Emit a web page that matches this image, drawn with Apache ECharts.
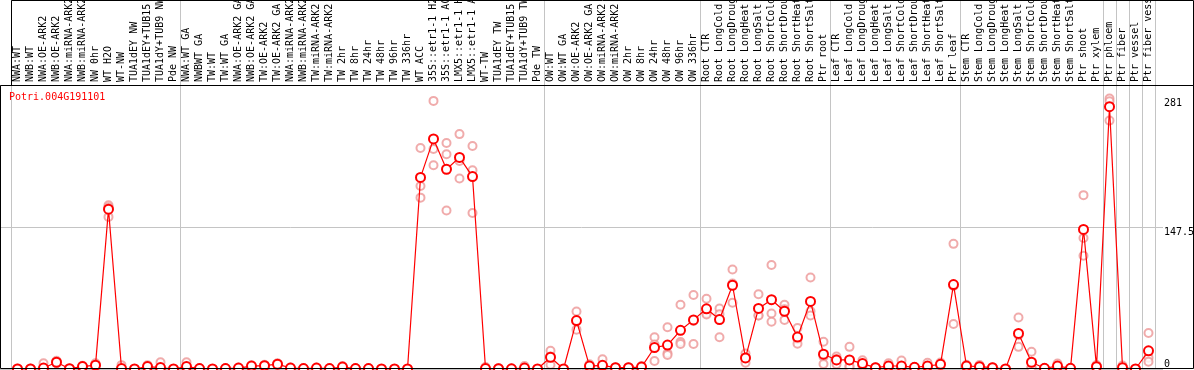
<!DOCTYPE html>
<html><head><meta charset="utf-8">
<script src="https://cdn.jsdelivr.net/npm/echarts@6/dist/echarts.min.js"></script>
<style>html,body{margin:0;padding:0;background:#fff}#c{width:1194px;height:370px}</style>
</head><body><div id="c"></div>
<script>
const titleText = 'Potri.004G191101';
const categories = [
  'NWA:WT','NWB:WT','NWA:OE-ARK2','NWB:OE-ARK2','NWA:miRNA-ARK2','NWB:miRNA-ARK2','NW 0hr','WT H2O','WT-NW',
  'TUA1dEY NW','TUA1dEY+TUB15 NW','TUA1dY+TUB9 NW','Pde NW',
  'NWA:WT GA','NWBWT GA','TW:WT','TW:WT GA','NWA:OE-ARK2 GA','NWB:OE-ARK2 GA','TW:OE-ARK2','TW:OE-ARK2 GA',
  'NWA:miRNA-ARK2','NWB:miRNA-ARK2','TW:miRNA-ARK2','TW:miRNA-ARK2','TW 2hr','TW 8hr','TW 24hr','TW 48hr','TW 96hr','TW 336hr',
  'WT ACC','35S::etr1-1 H2O','35S::etr1-1 ACC','LMX5::etr1-1 H2O','LMX5::etr1-1 ACC','WT-TW','TUA1dEY TW','TUA1dEY+TUB15 TW','TUA1dY+TUB9 TW','Pde TW',
  'OW:WT','OW:WT GA','OW:OE-ARK2','OW:OE-ARK2 GA','OW:miRNA-ARK2','OW:miRNA-ARK2','OW 2hr','OW 8hr','OW 24hr','OW 48hr','OW 96hr','OW 336hr',
  'Root CTR','Root LongCold','Root LongDrought','Root LongHeat','Root LongSalt','Root ShortCold','Root ShortDrought','Root ShortHeat','Root ShortSalt','Ptr root',
  'Leaf CTR','Leaf LongCold','Leaf LongDrought','Leaf LongHeat','Leaf LongSalt','Leaf ShortCold','Leaf ShortDrought','Leaf ShortHeat','Leaf ShortSalt','Ptr leaf',
  'Stem CTR','Stem LongCold','Stem LongDrought','Stem LongHeat','Stem LongSalt','Stem ShortCold','Stem ShortDrought','Stem ShortHeat','Stem ShortSalt','Ptr shoot',
  'Ptr xylem','Ptr phloem','Ptr fiber','Ptr vessel','Ptr fiber vessel'
];
const meanValues = [
  0,0,1,7,0.3,2.5,4,166,0.5,0,2.5,1.5,0,
  2.5,0.5,0,0.5,1,3,3.5,5,1,0.5,1,0.5,2,0.5,0.5,0,0,0,
  199,239,207.5,219.8,199.9,0.5,0.3,0.2,1,0,
  12.2,0,50.3,3,3.8,1.4,1.4,2,22.3,24.8,40.2,51,
  62.5,51.4,87,11.5,62.9,72,60,33.2,70.2,15.4,
  9.4,9.4,5.6,1.4,3.1,3.1,1.7,3.1,4.9,87.7,
  3.1,2.4,1.4,0,37,7,0.7,3.1,0.7,145,
  2.4,272.5,1.4,0,18.9
];
const rep1 = [
  0,0,0.5,6,0,1.5,2,170,0,0,1.5,0,0,
  0,0,0,0,0.5,2,2.5,4,0.5,0,0.5,0,1,0,0,0,0,0,
  190,278.5,234.8,244,231.6,0,0,0,0,0,
  18.9,0,59.7,1,0.5,1,1,1,33,43.3,66.7,76.9,
  73,62.9,103.4,16,77.6,108,66.7,42.6,95,28.3,
  12.9,23,9,1,6,8.7,1,6.5,3,130,
  2,1,1,0,53.5,18,0.5,5.6,0.5,180.6,
  1,281,0,0,37.4
];
const rep2 = [
  0,0,1,7,0.3,2.5,4,168,0.5,0,2,0,0,
  1,0.5,0,0.5,1,3,3.5,5,1,0.5,1,0.5,2,0.5,0.5,0,0,0,
  178,228.5,223,216,206.5,0,0.5,0.2,0.5,0,
  13,0,50,3,1,1.4,1.4,2,25.5,16.4,28,50,
  58,57,88.7,12,55.6,57.6,62,31,60,12.7,
  10.4,3,5,1.5,2,0.5,2,2,5,86.3,
  3,2,1.4,0,35,2,0.7,2,0.7,136,
  2,278,0.5,0,11.8
];
const rep3 = [
  0.5,0.5,6,8.5,0.5,3.5,6,158,4,0,4,7,0,
  7,1,0,1,1.5,4,4.5,6,1.5,1,1.5,1,3,1,1,0,0,0,
  229.6,211.7,164.6,197.8,162,2,1,0.4,3,0,
  4.5,0,40.9,5,10,1.7,1.7,3,8.4,14.5,26,25.9,
  56.6,33,68.9,6.6,55.5,49,51,26.2,55.5,5.2,
  4.9,2.2,2.8,1.7,1.3,0.1,2,0.8,6.7,46.8,
  4.3,4.2,1.7,0,23,1,0.9,1.7,0.9,117.7,
  4.2,258,3.7,0,7.5
];
const yTickLabels = [0, 147.5, 281];
const yMax = 295;
const groupBoundaries = [0, 13, 41, 53, 63, 73, 84, 85, 86, 87];

const mono = 'DejaVu Sans Mono';
const gridGray = '#c4c4c4';
const chart = echarts.init(document.getElementById('c'), null, {renderer: 'canvas'});
const sepLine = {show: true, interval: (i) => groupBoundaries.includes(i), lineStyle: {color: gridGray, width: 1}};
const repStyle = {color: 'rgb(236,150,150)', borderColor: 'rgb(236,150,150)', borderWidth: 1.2};
function repSeries(arr) {
  return {type: 'scatter', xAxisIndex: 0, yAxisIndex: 0, data: arr, symbol: 'emptyCircle', symbolSize: 8,
    itemStyle: repStyle, z: 2, silent: true};
}
function labelAxis(value, vAlign, withSplit) {
  return {type: 'value', gridIndex: 2, min: 0, max: yMax, interval: value === 0 ? yTickLabels[1] : value,
    position: 'right', axisLine: {show: false}, axisTick: {show: false},
    splitLine: withSplit ? {show: true, lineStyle: {color: gridGray, width: 1}} : {show: false},
    axisLabel: {show: true, margin: 1, align: 'left', verticalAlign: vAlign, fontFamily: mono, fontSize: 10, color: '#000',
      formatter: (v) => (Math.abs(v - value) < 1e-6 ? String(value) : '')}};
}
const gridBase = {containLabel: false, outerBoundsMode: 'none'};
chart.setOption({
  animation: false,
  backgroundColor: '#fff',
  title: {text: titleText, left: 9, top: 92, padding: 0,
    textStyle: {color: '#ff0000', fontFamily: mono, fontSize: 10, fontWeight: 'normal'}},
  grid: [
    Object.assign({left: 11, right: 39, top: 85, bottom: 1}, gridBase),
    Object.assign({left: 11, right: 39, top: 0, height: 85}, gridBase),
    Object.assign({left: 0, right: 31, top: 85, bottom: 1}, gridBase)
  ],
  xAxis: [
    {type: 'category', gridIndex: 0, data: categories, position: 'top', boundaryGap: true,
      axisLine: {show: false, onZero: false}, axisTick: {show: false},
      axisLabel: {interval: 0, rotate: -90, align: 'left', verticalAlign: 'middle', margin: 3,
        fontFamily: mono, fontSize: 10, color: '#000', hideOverlap: false},
      splitLine: sepLine},
    {type: 'category', gridIndex: 1, data: categories, boundaryGap: true,
      axisLine: {show: false}, axisTick: {show: false}, axisLabel: {show: false}, splitLine: sepLine},
    {type: 'value', gridIndex: 2, show: false}
  ],
  yAxis: [
    {type: 'value', gridIndex: 0, min: 0, max: yMax, show: false},
    {type: 'value', gridIndex: 1, show: false},
    labelAxis(yTickLabels[1], 'top', true),
    labelAxis(yTickLabels[2], 'top', false),
    labelAxis(yTickLabels[0], 'bottom', false)
  ],
  series: [
    repSeries(rep1), repSeries(rep2), repSeries(rep3),
    {type: 'line', xAxisIndex: 0, yAxisIndex: 0, data: meanValues, symbol: 'emptyCircle', symbolSize: 9,
      showAllSymbol: true,
      lineStyle: {color: '#ff0000', width: 1.2},
      itemStyle: {color: '#ff0000', borderColor: '#ff0000', borderWidth: 1.6}, z: 5, silent: true}
  ],
  graphic: [
    {type: 'rect', z: 100, silent: true, shape: {x: 0.5, y: 85.5, width: 1193, height: 283},
      style: {fill: 'none', stroke: '#000', lineWidth: 1}},
    {type: 'rect', z: 100, silent: true, shape: {x: 11.5, y: 0.5, width: 1182, height: 85},
      style: {fill: 'none', stroke: '#000', lineWidth: 1}}
  ]
});
</script>
</body></html>
